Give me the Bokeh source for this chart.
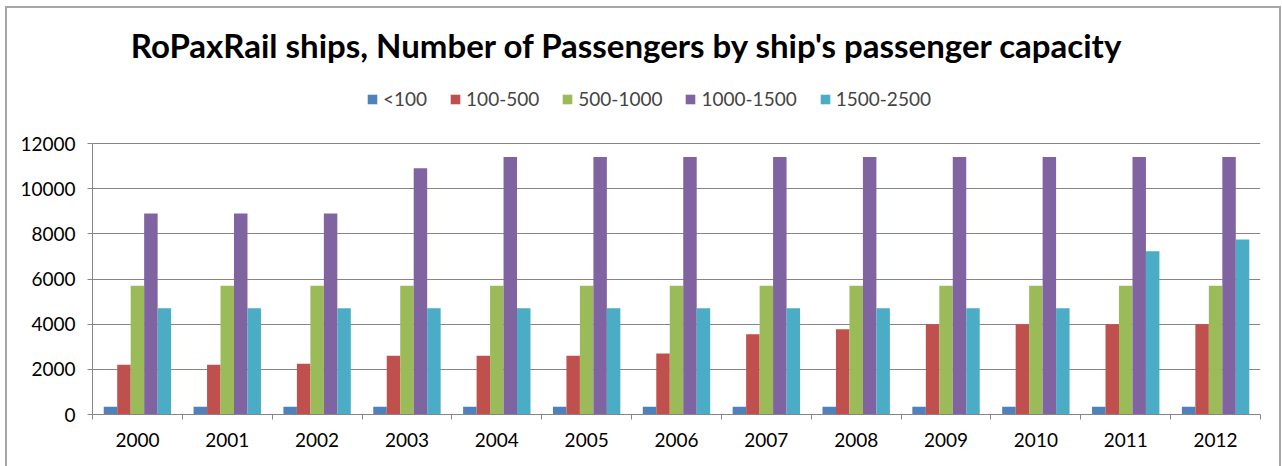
import numpy as np
from bokeh.plotting import figure
from bokeh.models import Range1d, FixedTicker, Legend, LegendItem, Label, ColumnDataSource
from bokeh.embed import file_html
from bokeh.resources import INLINE

years = ["2000", "2001", "2002", "2003", "2004", "2005", "2006",
         "2007", "2008", "2009", "2010", "2011", "2012"]
series_names = ["<100", "100-500", "500-1000", "1000-1500", "1500-2500"]
cap_lt100 = [340, 340, 340, 340, 340, 340, 340, 340, 340, 340, 340, 340, 340]
cap_100_500 = [2200, 2200, 2250, 2600, 2600, 2600, 2700, 3550, 3780, 4000, 4000, 4000, 4000]
cap_500_1000 = [5700, 5700, 5700, 5700, 5700, 5700, 5700, 5700, 5700, 5700, 5700, 5700, 5700]
cap_1000_1500 = [8900, 8900, 8900, 10900, 11400, 11400, 11400, 11400, 11400, 11400, 11400, 11400, 11400]
cap_1500_2500 = [4700, 4700, 4700, 4700, 4700, 4700, 4700, 4700, 4700, 4700, 4700, 7230, 7750]
y_ticks = [0, 2000, 4000, 6000, 8000, 10000, 12000]
title_text = "RoPaxRail ships, Number of Passengers by ship's passenger capacity"

series = [cap_lt100, cap_100_500, cap_500_1000, cap_1000_1500, cap_1500_2500]
colors = ["#4F81BD", "#C0504D", "#9BBB59", "#8064A2", "#4BACC6"]

FONT = "Lato"
n = len(years)
centers = np.arange(n) + 0.5
bar_w = 0.15
offsets = [-0.3, -0.15, 0.0, 0.15, 0.3]

# frame spans from the canvas top; the value axis occupies its lower part,
# leaving room above for the title and legend
frame_h = 406
plot_h = 271
y_max = y_ticks[-1]

p = figure(width=1276, height=468, output_backend="svg", toolbar_location=None,
           x_range=Range1d(0, n), y_range=Range1d(0, y_max * frame_h / plot_h),
           min_border_left=85, min_border_right=23, min_border_bottom=62,
           min_border_top=0,
           styles={"position": "absolute", "left": "5px", "top": "6px",
                   "border": "2px solid #a6a6a6"})
p.outline_line_color = None
p.background_fill_color = "white"
p.border_fill_color = "white"

items = []
for name, vals, off, col in zip(series_names, series, offsets, colors):
    src = ColumnDataSource(dict(x=centers + off, top=vals))
    r = p.vbar(x="x", top="top", width=bar_w, bottom=0, source=src,
               fill_color=col, line_color=None)
    items.append(LegendItem(label=name, renderers=[r]))

# axes
p.xaxis.ticker = FixedTicker(ticks=list(centers), minor_ticks=list(range(n + 1)))
p.xaxis.major_label_overrides = {float(c): y for c, y in zip(centers, years)}
p.xaxis.major_tick_line_color = None
p.xaxis.minor_tick_line_color = "#868686"
p.xaxis.minor_tick_in = 0
p.xaxis.minor_tick_out = 5
p.xaxis.axis_line_color = "#868686"
p.xaxis.major_label_text_font = FONT
p.xaxis.major_label_text_font_size = "19px"
p.xaxis.major_label_text_color = "black"
p.xaxis.major_label_standoff = 12

p.yaxis.ticker = FixedTicker(ticks=y_ticks)
p.yaxis.bounds = (0, y_max)
p.yaxis.major_tick_in = 0
p.yaxis.major_tick_out = 5
p.yaxis.minor_tick_line_color = None
p.yaxis.major_tick_line_color = "#868686"
p.yaxis.axis_line_color = "#868686"
p.yaxis.major_label_text_font = FONT
p.yaxis.major_label_text_font_size = "19px"
p.yaxis.major_label_text_color = "black"
p.yaxis.major_label_standoff = 12

p.xgrid.grid_line_color = None
p.ygrid.grid_line_color = "#868686"
p.ygrid.grid_line_width = 1

legend = Legend(items=items, orientation="horizontal", location=(274, 304),
                glyph_width=12, glyph_height=12, label_standoff=5, spacing=22,
                label_height=20,
                label_text_font=FONT, label_text_font_size="19px",
                label_text_baseline="middle",
                border_line_color=None, background_fill_alpha=0,
                padding=0, margin=0)
p.add_layout(legend, "center")

title = Label(x=535, y=370, x_units="screen", y_units="screen", text=title_text,
              text_align="center", text_baseline="middle",
              text_font=FONT, text_font_size="33px", text_font_style="bold",
              text_color="black")
p.add_layout(title, "center")

open("out.html", "w").write(file_html(p, INLINE))
